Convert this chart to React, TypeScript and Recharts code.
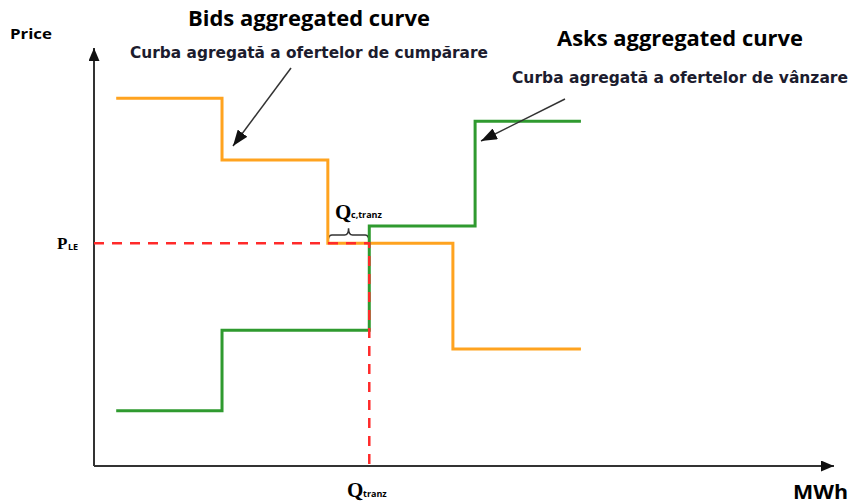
import { LineChart, Line, XAxis, YAxis, ReferenceArea, ReferenceLine } from 'recharts'

// quantities (MWh, arbitrary units) and prices
const bidQty = [3, 17.3, 31.6, 48.5, 65.8]
const bidPrice = [88, 73.2, 53.3, 28, 28]
const askQty = [3, 17.3, 37.2, 51.5, 65.8]
const askPrice = [13.2, 32.5, 57.4, 82.5, 82.5]
const clearingPrice = 53.3 // P_LE
const clearingQty = 37.2 // Q_tranz
const axisMax = 100

const bids = bidQty.map((q, i) => ({ q, p: bidPrice[i] }))
const asks = askQty.map((q, i) => ({ q, p: askPrice[i] }))
const clearing = [
  { q: 0, p: clearingPrice },
  { q: clearingQty, p: clearingPrice },
  { q: clearingQty, p: 0 },
]

const W = 854
const H = 504
const ORANGE = '#ffa31f'
const GREEN = '#2f9a2f'
const RED = '#ff2a2a'
const AXIS = '#333'
const TITLE_FONT = '"Open Sans", "Liberation Sans", sans-serif'
const NOTE_FONT = '"DejaVu Sans", "Liberation Sans", sans-serif'
const SERIF = '"Liberation Serif", "DejaVu Serif", serif'

// curly brace over the gap between the bid step and Q_tranz
function Brace(props: any) {
  const { x, y, width, height } = props
  if (x == null || width == null) return null
  const b = y + height
  const m = y + height * 0.45
  const cx = x + width / 2
  const x2 = x + width
  const d = `M${x},${b} Q${x},${m} ${x + 4},${m} L${cx - 4},${m} Q${cx},${m} ${cx},${y} Q${cx},${m} ${cx + 4},${m} L${x2 - 4},${m} Q${x2},${m} ${x2},${b}`
  return <path d={d} fill="none" stroke={AXIS} strokeWidth={1.5} />
}

export default function App() {
  return (
    <div style={{ position: 'absolute', left: 0, top: 0, width: W, height: H, background: '#fff' }}>
      <svg width={0} height={0} style={{ position: 'absolute' }}>
        <defs>
          <marker id="axisArrow" markerUnits="userSpaceOnUse" markerWidth={13} markerHeight={11}
            refX={13} refY={5.5} orient="auto">
            <path d="M0,0 L13,5.5 L0,11 z" fill="#111" />
          </marker>
          <marker id="noteArrow" markerUnits="userSpaceOnUse" markerWidth={16} markerHeight={12}
            refX={16} refY={6} orient="auto">
            <path d="M0,0 L16,6 L0,12 z" fill="#111" />
          </marker>
        </defs>
      </svg>

      <LineChart width={W} height={H} data={bids} margin={{ top: 48, right: 20, bottom: 38, left: 94 }}>
        <XAxis type="number" dataKey="q" domain={[0, axisMax]} hide />
        <YAxis type="number" dataKey="p" domain={[0, axisMax]} hide />
        <ReferenceLine segment={[{ x: 0, y: 0 }, { x: axisMax, y: 0 }]} ifOverflow="visible"
          stroke={AXIS} strokeWidth={2} markerEnd="url(#axisArrow)" />
        <ReferenceLine segment={[{ x: 0, y: 0 }, { x: 0, y: axisMax }]} ifOverflow="visible"
          stroke={AXIS} strokeWidth={2} markerEnd="url(#axisArrow)" />
        <Line data={bids} dataKey="p" type="stepAfter" stroke={ORANGE} strokeWidth={3}
          dot={false} activeDot={false} isAnimationActive={false} />
        <Line data={asks} dataKey="p" type="stepAfter" stroke={GREEN} strokeWidth={3}
          dot={false} activeDot={false} isAnimationActive={false} />
        <Line data={clearing} dataKey="p" type="linear" stroke={RED} strokeWidth={2.5}
          strokeDasharray="10 8" dot={false} activeDot={false} isAnimationActive={false} />
        <ReferenceArea x1={bidQty[2]} x2={clearingQty} y1={clearingPrice} y2={clearingPrice + 3.6}
          ifOverflow="visible" shape={<Brace />} />
      </LineChart>

      <svg width={W} height={H} style={{ position: 'absolute', left: 0, top: 0, pointerEvents: 'none' }}>
        <text x={10} y={39} fontFamily={TITLE_FONT} fontWeight="bold" fontSize={15}
          textLength={42} lengthAdjust="spacingAndGlyphs">Price</text>
        <text x={188} y={26} fontFamily={TITLE_FONT} fontWeight="bold" fontSize={21}
          textLength={242} lengthAdjust="spacingAndGlyphs">Bids aggregated curve</text>
        <text x={557} y={46} fontFamily={TITLE_FONT} fontWeight="bold" fontSize={21}
          textLength={246} lengthAdjust="spacingAndGlyphs">Asks aggregated curve</text>
        <text x={130} y={58} fill="#1c1c2e" fontFamily={NOTE_FONT} fontWeight="bold" fontSize={15}
          textLength={358} lengthAdjust="spacingAndGlyphs">Curba agregată a ofertelor de cumpărare</text>
        <text x={512} y={83} fill="#1c1c2e" fontFamily={NOTE_FONT} fontWeight="bold" fontSize={15}
          textLength={336} lengthAdjust="spacingAndGlyphs">Curba agregată a ofertelor de vânzare</text>

        <line x1={291} y1={68} x2={233} y2={146} stroke="#333" strokeWidth={1.5} markerEnd="url(#noteArrow)" />
        <line x1={565} y1={99} x2={481} y2={141} stroke="#333" strokeWidth={1.5} markerEnd="url(#noteArrow)" />

        <text x={57} y={249} fontFamily={SERIF} fontWeight="bold" fontSize={17}>P</text>
        <text x={68} y={250} fontFamily={TITLE_FONT} fontWeight="bold" fontSize={9}>LE</text>

        <text x={335} y={219} fontFamily={SERIF} fontWeight="bold" fontSize={21}>Q</text>
        <text x={351} y={218} fontFamily={TITLE_FONT} fontWeight="bold" fontSize={9}>c,tranz</text>

        <text x={347} y={497} fontFamily={SERIF} fontWeight="bold" fontSize={21}>Q</text>
        <text x={363} y={497} fontFamily={TITLE_FONT} fontWeight="bold" fontSize={9}>tranz</text>

        <text x={793} y={499} fontFamily={TITLE_FONT} fontWeight="bold" fontSize={19}
          textLength={55} lengthAdjust="spacingAndGlyphs">MWh</text>
      </svg>
    </div>
  )
}
